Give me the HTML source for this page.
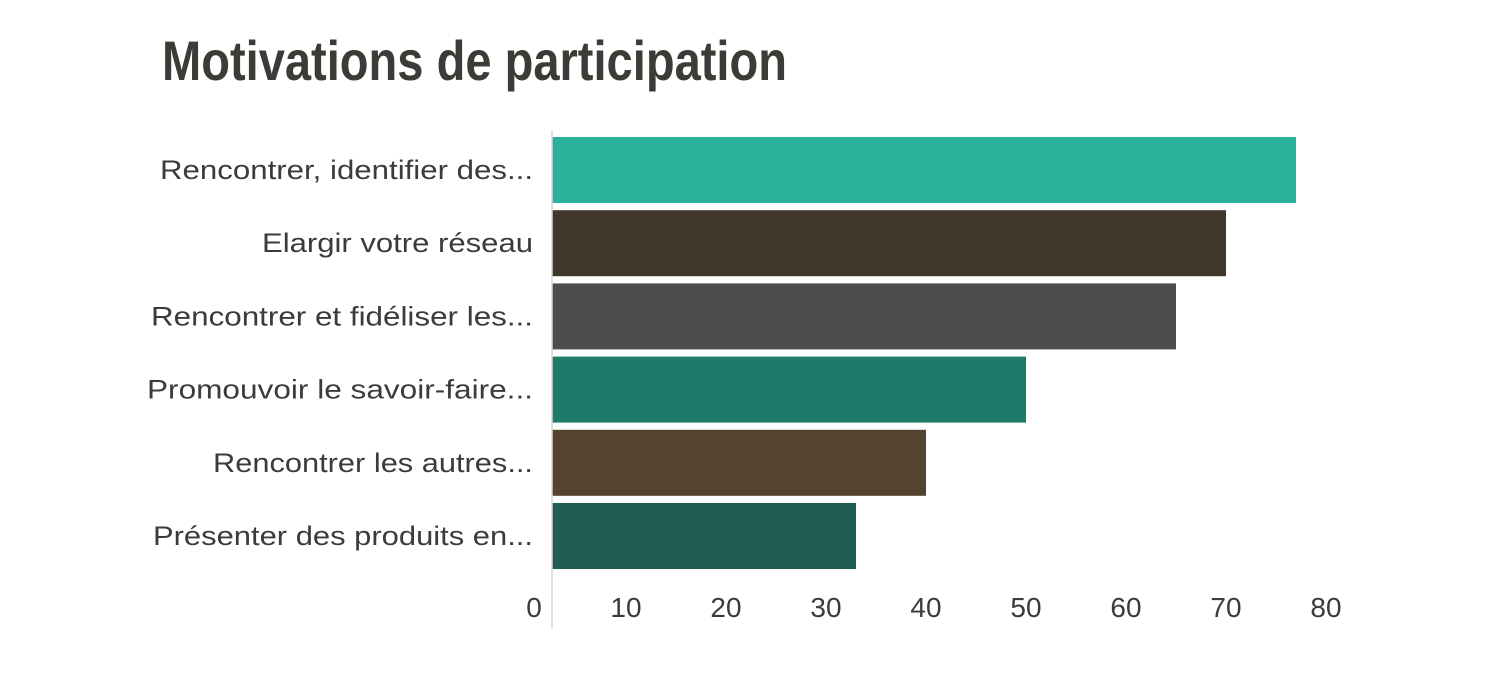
<!DOCTYPE html>
<html><head><meta charset="utf-8"><style>
html,body{margin:0;padding:0;background:#fff;}
svg{display:block;font-family:"Liberation Sans",sans-serif;}
</style></head><body>
<svg width="1488" height="676" viewBox="0 0 1488 676">
<text x="162" y="80" font-size="56" font-weight="bold" fill="#3d3b36" textLength="625" lengthAdjust="spacingAndGlyphs">Motivations de participation</text>
<g id="bars"></g>
<g id="labels"></g>
<g id="ticks"></g>
<line x1="552" y1="130" x2="552" y2="628" stroke="#d6d6d6" stroke-width="1.5"/>
</svg>
<script>
const categories=["Rencontrer, identifier des...","Elargir votre réseau","Rencontrer et fidéliser les...","Promouvoir le savoir-faire...","Rencontrer les autres...","Présenter des produits en..."];
const values=[77,70,65,50,40,33];
const colors=["#2bb19a","#40362a","#4d4d4d","#1e7a69","#54432e","#225d52"];
const tickValues=[0,10,20,30,40,50,60,70,80];
const labelWidths=[373,271,382,386,320,380];
const NS="http://www.w3.org/2000/svg";
function x(v){return 526+v*10;}
function yBand(i){return 137+i*73.2;}
const bh=66;
const gb=document.getElementById('bars'),gl=document.getElementById('labels'),gt=document.getElementById('ticks');
categories.forEach((c,i)=>{
  const r=document.createElementNS(NS,'rect');
  
  
  r.setAttribute('x',552);r.setAttribute('y',yBand(i));
  r.setAttribute('width',Math.max(0,x(values[i])-552));r.setAttribute('height',bh);
  r.setAttribute('fill',colors[i]);gb.appendChild(r);
  const t=document.createElementNS(NS,'text');
  
  
  t.setAttribute('x',533);t.setAttribute('y',yBand(i)+bh/2+9);
  t.setAttribute('text-anchor','end');t.setAttribute('font-size','27');t.setAttribute('fill','#3d3b37');
  t.setAttribute('textLength',labelWidths[i]);t.setAttribute('lengthAdjust','spacingAndGlyphs');
  t.textContent=c;gl.appendChild(t);
});
tickValues.forEach((v,i)=>{
  const t=document.createElementNS(NS,'text');
  
  
  t.setAttribute('x',i===0?534:x(v));t.setAttribute('y',617);
  t.setAttribute('text-anchor','middle');t.setAttribute('font-size','28');t.setAttribute('fill','#3d3b37');
  t.textContent=v;gt.appendChild(t);
});
</script>
</body></html>
